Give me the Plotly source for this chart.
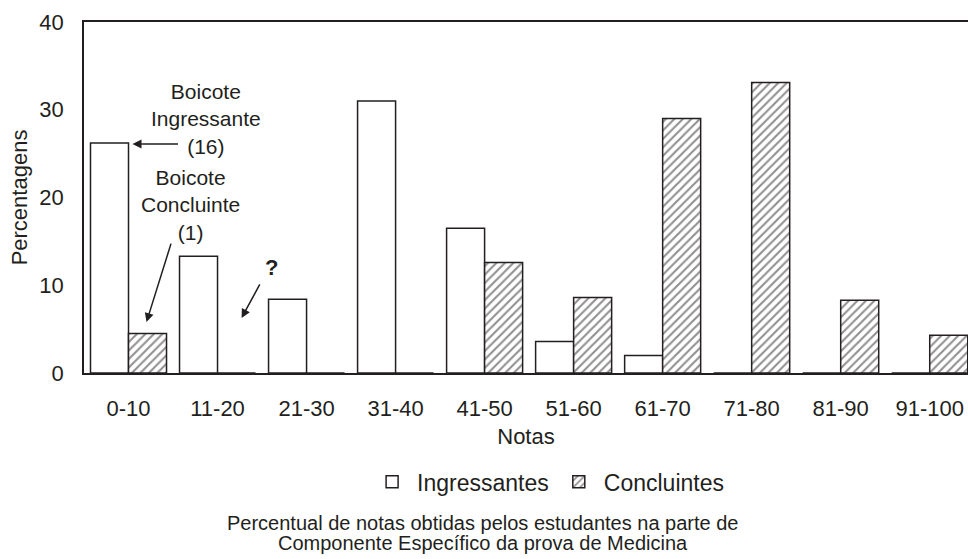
import plotly.graph_objects as go

categories = ["0-10", "11-20", "21-30", "31-40", "41-50", "51-60", "61-70", "71-80", "81-90", "91-100"]
ingressantes = [26.2, 13.3, 8.4, 31.0, 16.5, 3.6, 2.0, 0, 0, 0]
concluintes = [4.5, 0, 0, 0, 12.6, 8.6, 29.0, 33.1, 8.3, 4.3]
y_ticks = [0, 10, 20, 30, 40]

FONT = "Liberation Sans, Arial, sans-serif"
INK = "#231f20"

fig = go.Figure()
fig.add_trace(go.Bar(
    x=categories, y=ingressantes, name="Ingressantes",
    marker=dict(color="white", line=dict(color=INK, width=1.5)),
))
fig.add_trace(go.Bar(
    x=categories, y=concluintes, name="Concluintes",
    marker=dict(color="white", line=dict(color=INK, width=1.5),
                pattern=dict(shape="/", fgcolor=INK, bgcolor="white", size=6, solidity=0.35)),
))

annotations = []
def txt(x, y, s, size=21, bold=False):
    annotations.append(dict(x=x, y=y, xref="x", yref="y", text=("<b>%s</b>" % s) if bold else s,
                            showarrow=False, font=dict(family=FONT, size=size, color=INK),
                            xanchor="center", yanchor="middle", align="center"))

txt(0.87, 29.0, "Boicote<br>Ingressante<br>(16)")
txt(0.70, 19.1, "Boicote<br>Concluinte<br>(1)")
txt(1.61, 12.0, "?", size=22, bold=True)

def arrow(x, y, ax, ay):
    annotations.append(dict(x=x, y=y, xref="x", yref="y", ax=ax, ay=ay, text="",
                            showarrow=True, arrowhead=2, arrowsize=1.2, arrowwidth=1.5,
                            arrowcolor=INK))

arrow(0.045, 26.1, 47, 0)
arrow(0.202, 5.8, 25, -80)
arrow(1.27, 6.27, 19, -35)

caption = ["Percentual de notas obtidas pelos estudantes na parte de",
           "Componente Específico da prova de Medicina"]
for line, yy in zip(caption, [-0.427, -0.484]):
    annotations.append(dict(x=0.451, y=yy, xref="paper", yref="paper", text=line,
                            showarrow=False, font=dict(family=FONT, size=20, color=INK),
                            xanchor="center", yanchor="middle"))

fig.update_layout(
    width=968, height=559,
    margin=dict(l=84, r=0, t=22, b=186),
    paper_bgcolor="white", plot_bgcolor="white",
    barmode="group", bargap=0.146, bargroupgap=0,
    font=dict(family=FONT, size=22, color=INK),
    showlegend=True,
    legend=dict(orientation="h", x=0.525, xanchor="center", y=-0.31, yanchor="middle",
                font=dict(family=FONT, size=23, color=INK), traceorder="normal",
                itemwidth=40, bgcolor="rgba(0,0,0,0)"),
    annotations=annotations,
    xaxis=dict(type="category", range=[-0.5, 9.43], showline=True, linecolor=INK, linewidth=1.5,
               mirror=True, ticks="", showgrid=False, zeroline=False, ticklabelstandoff=15,
               tickfont=dict(family=FONT, size=22, color=INK),
               title=dict(text="Notas", font=dict(family=FONT, size=22, color=INK), standoff=8)),
    yaxis=dict(range=[0, 40], tickvals=y_ticks, showline=True, linecolor=INK, linewidth=1.5,
               mirror=False, ticks="", showgrid=False, zeroline=False, ticklabelstandoff=14,
               tickfont=dict(family=FONT, size=22, color=INK),
               title=dict(text="Percentagens", font=dict(family=FONT, size=22, color=INK), standoff=6)),
)

fig.write_html("out.html", config={"displayModeBar": False},
               post_script="document.body.style.margin='0';document.body.style.padding='0';")
